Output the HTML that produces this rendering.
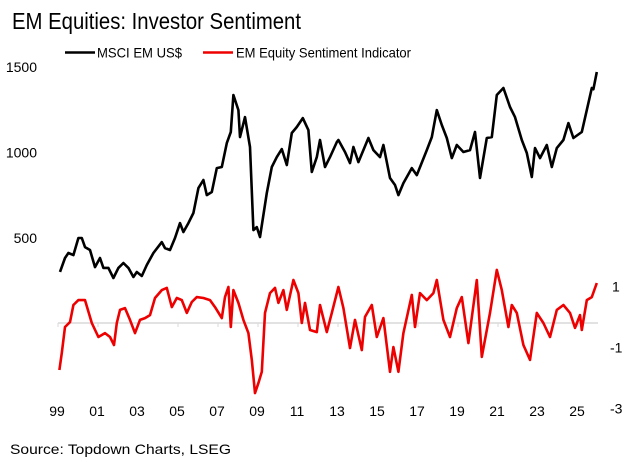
<!DOCTYPE html>
<html><head><meta charset="utf-8"><style>
html,body{margin:0;padding:0;background:#fff;}
svg{display:block;font-family:"Liberation Sans",Arial,sans-serif;}
</style></head><body>
<svg id="chart" width="640" height="462" viewBox="0 0 640 462">
<text x="12" y="29" font-size="23" textLength="289" lengthAdjust="spacingAndGlyphs" fill="#000">EM Equities: Investor Sentiment</text>
<g>
<line x1="65" y1="52.5" x2="95" y2="52.5" stroke="#000" stroke-width="2.5"/>
<text x="97" y="57.5" font-size="14" textLength="85" lengthAdjust="spacingAndGlyphs">MSCI EM US$</text>
<line x1="203" y1="52.5" x2="233" y2="52.5" stroke="#e00" stroke-width="2.5"/>
<text x="236" y="57.5" font-size="14" textLength="175" lengthAdjust="spacingAndGlyphs">EM Equity Sentiment Indicator</text>
</g>
<g id="axes"></g>
<g id="series"></g>
<text x="10" y="454" font-size="14" textLength="221" lengthAdjust="spacingAndGlyphs">Source: Topdown Charts, LSEG</text>
</svg>
<script>
const msciDates=[1999.10,1999.35,1999.52,1999.77,2000.02,2000.19,2000.35,2000.60,2000.85,2001.10,2001.27,2001.52,2001.77,2002.02,2002.27,2002.52,2002.77,2002.94,2003.19,2003.44,2003.77,2004.19,2004.35,2004.60,2004.85,2005.10,2005.27,2005.52,2005.77,2006.02,2006.27,2006.44,2006.69,2006.94,2007.19,2007.44,2007.64,2007.77,2008.02,2008.10,2008.35,2008.60,2008.77,2008.94,2009.10,2009.44,2009.69,2009.94,2010.19,2010.44,2010.69,2010.94,2011.24,2011.52,2011.69,2011.94,2012.10,2012.35,2012.60,2012.94,2013.02,2013.35,2013.60,2013.77,2014.02,2014.52,2014.77,2015.10,2015.27,2015.60,2015.85,2016.02,2016.27,2016.69,2016.94,2017.44,2017.69,2017.94,2018.19,2018.44,2018.69,2018.94,2019.27,2019.60,2019.85,2020.10,2020.44,2020.69,2020.94,2021.27,2021.60,2021.85,2022.19,2022.44,2022.69,2022.85,2023.10,2023.44,2023.69,2023.94,2024.27,2024.52,2024.77,2025.19,2025.44,2025.69,2025.77,2025.94];
const msciValues=[302,383,412,400,500,500,447,430,330,383,325,325,266,325,354,325,272,301,278,342,412,476,441,430,500,587,535,587,646,792,839,751,769,909,915,1055,1120,1336,1248,1090,1207,1032,546,564,506,763,915,973,1020,927,1114,1149,1201,1131,886,973,1073,915,973,1061,1073,1003,938,1032,944,1085,1014,973,1044,851,810,751,821,909,868,1014,1090,1248,1161,1085,967,1044,1003,1014,1120,851,1085,1090,1336,1377,1266,1207,1073,997,857,1026,967,1044,915,1026,1073,1172,1085,1120,1248,1377,1370,1471];
const sentDates=[1999.07,1999.19,1999.35,1999.60,1999.77,2000.02,2000.35,2000.69,2001.02,2001.35,2001.60,2001.80,2001.94,2002.10,2002.35,2002.60,2002.85,2003.10,2003.35,2003.60,2003.85,2004.19,2004.44,2004.69,2004.94,2005.19,2005.44,2005.69,2005.94,2006.27,2006.60,2006.85,2007.19,2007.35,2007.52,2007.64,2007.77,2008.02,2008.27,2008.52,2008.69,2008.85,2009.02,2009.19,2009.35,2009.60,2009.85,2010.02,2010.27,2010.44,2010.77,2011.02,2011.19,2011.35,2011.60,2011.94,2012.10,2012.44,2012.69,2013.02,2013.27,2013.60,2013.85,2014.19,2014.35,2014.69,2014.94,2015.27,2015.60,2015.77,2016.02,2016.27,2016.69,2016.85,2017.10,2017.44,2017.77,2017.94,2018.27,2018.60,2018.94,2019.19,2019.52,2019.94,2020.19,2020.60,2020.94,2021.19,2021.52,2021.69,2021.94,2022.27,2022.60,2022.94,2023.27,2023.60,2023.94,2024.27,2024.60,2024.85,2025.10,2025.19,2025.44,2025.69,2025.94];
const sentValues=[-1.54,-0.98,-0.13,0.03,0.59,0.75,0.75,0,-0.46,-0.33,-0.46,-0.72,0,0.43,0.49,0.1,-0.33,0.1,0.16,0.26,0.82,1.08,1.15,0.52,0.82,0.75,0.33,0.69,0.85,0.82,0.75,0.52,0.16,0.85,1.18,-0.13,1.08,0.66,0.1,-0.33,-1.21,-2.3,-1.97,-1.6,0.33,0.98,1.15,0.66,1.08,0.43,1.41,0.98,0,0.66,-0.23,-0.3,0.59,-0.3,0.33,1.18,0.49,-0.82,0.1,-0.89,0.2,0.59,-0.46,0.16,-1.6,-0.79,-1.6,-0.33,0.92,-0.13,0.98,0.75,0.98,1.41,0.1,-0.46,0.49,0.85,-0.66,1.41,-1.11,0.33,1.74,1.08,-0.13,0.59,0.33,-0.72,-1.21,0.33,0,-0.46,0.43,0.59,0.33,-0.16,0.26,-0.23,0.75,0.85,1.31];
const yearLabels=["99","01","03","05","07","09","11","13","15","17","19","21","23","25"];
const leftTicks=[500,1000,1500];
const rightTicks=[1,-1,-3];

const NS="http://www.w3.org/2000/svg";
const xS=y=>58+(y-1999)*20;
const yL=v=>67+(1500-v)*85.5/500;
const yR=v=>323-v*30.5;
const axes=document.getElementById('axes');
const series=document.getElementById('series');
function mk(tag,attrs,parent){const e=document.createElementNS(NS,tag);for(const k in attrs)e.setAttribute(k,attrs[k]);parent.appendChild(e);return e;}

const zl=mk('line',{x1:58,x2:598,y1:yR(0),y2:yR(0),stroke:'#d9d9d9','stroke-width':1.5},axes);


for(let i=0;i<=13;i++){
  const x=xS(1999+i*2);
  const t=mk('line',{x1:x,x2:x,y1:yR(0),y2:yR(0)+4,stroke:'#d9d9d9','stroke-width':1},axes);
  
  
}
yearLabels.forEach((l,i)=>{
  const t=mk('text',{x:xS(1999+i*2)-1,y:416,'font-size':14,'text-anchor':'middle'},axes);
  t.textContent=l;
  
  
});
leftTicks.forEach(v=>{
  const t=mk('text',{x:37,y:yL(v)+5,'font-size':14,'text-anchor':'end'},axes);
  t.textContent=String(v);
  
  
});
rightTicks.forEach(v=>{
  const t=mk('text',{x:v<0?610:612,y:yR(v)-1,'font-size':14},axes);
  t.textContent=String(v);
  
  
});
function path(dates,vals,ys,color,name){
  const d=dates.map((t,i)=>(i?'L':'M')+xS(t).toFixed(1)+','+ys(vals[i]).toFixed(1)).join('');
  const p=mk('path',{d:d,fill:'none',stroke:color,'stroke-width':2.6,'stroke-linejoin':'round'},series);
  
  
}
path(sentDates,sentValues,yR,'#ee0000','sentiment-line');
path(msciDates,msciValues,yL,'#000','msci-em-line');
</script>
</body></html>
